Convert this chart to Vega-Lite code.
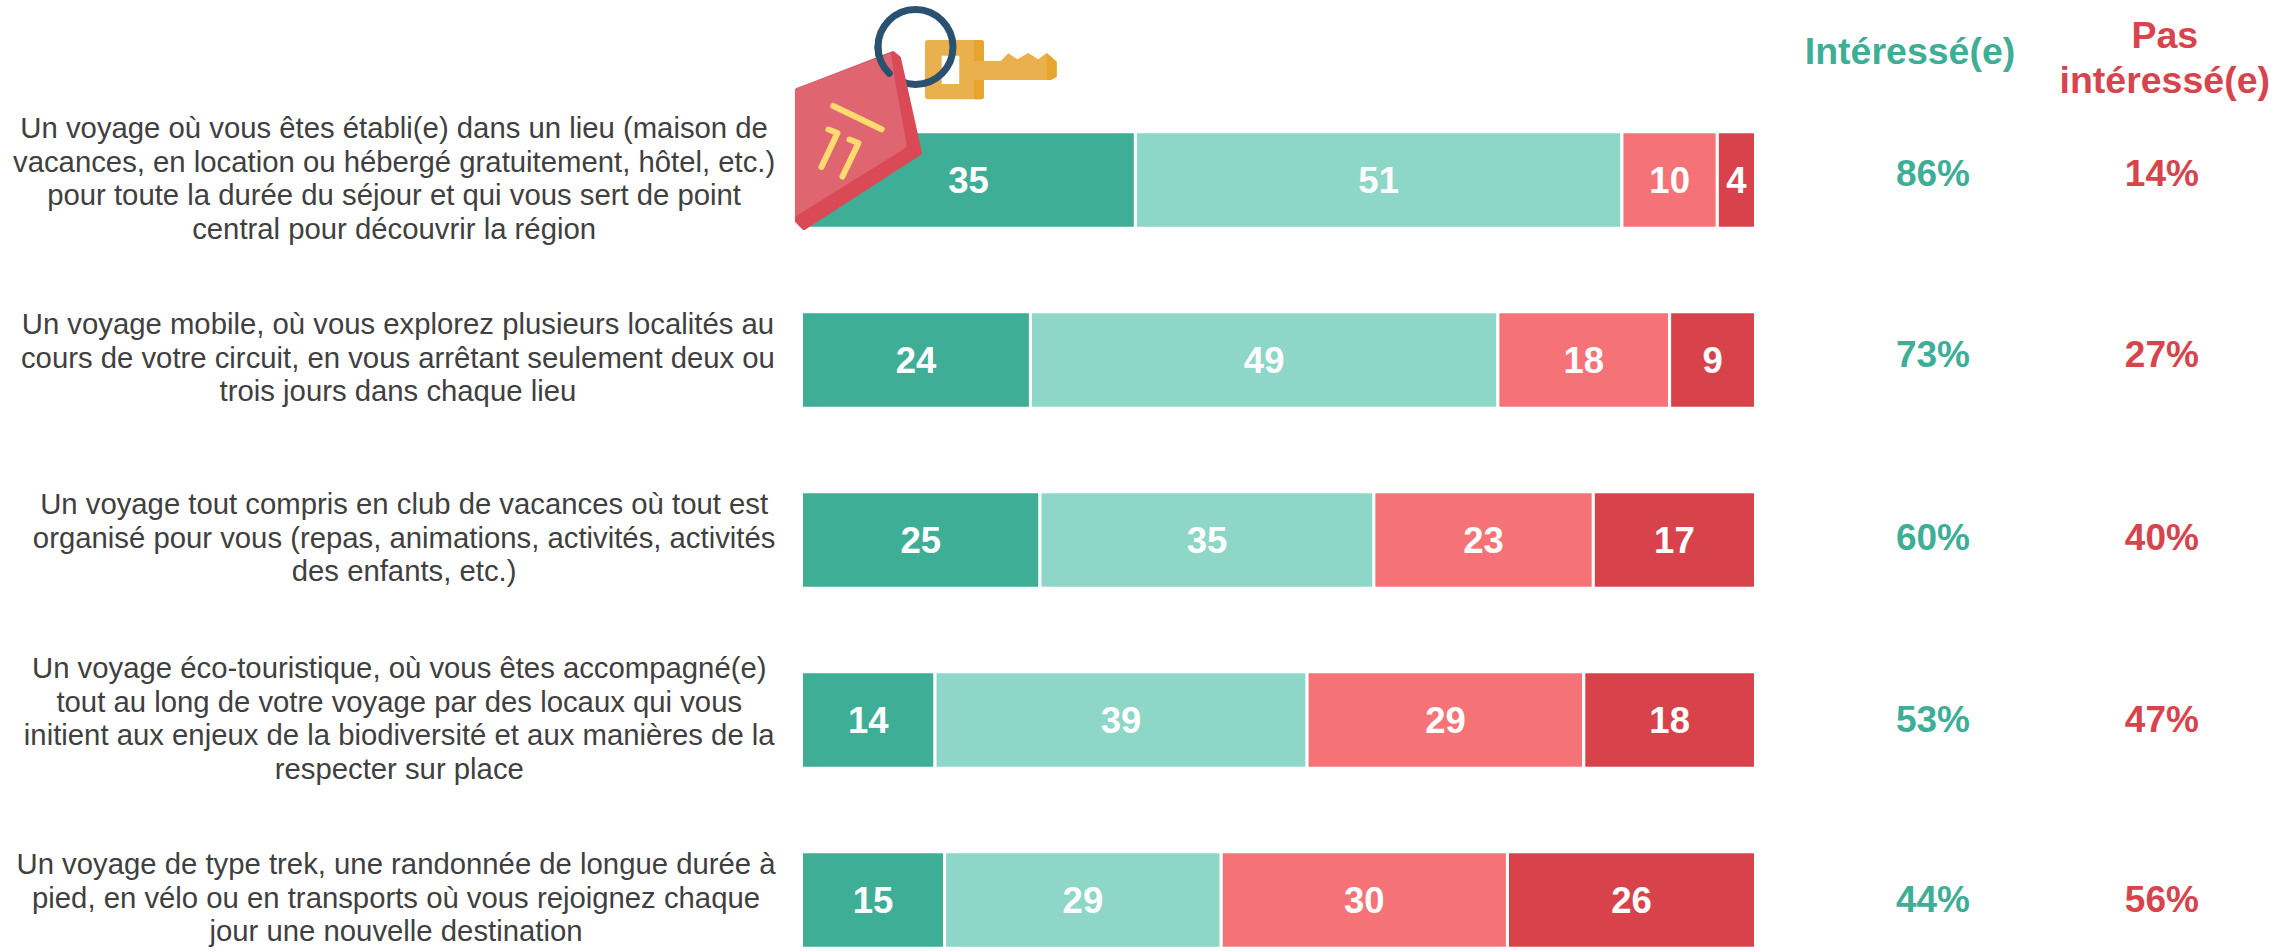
{"$schema":"https://vega.github.io/schema/vega-lite/v6.json","width":2276,"height":951,"padding":0,"autosize":{"type":"none"},"background":"white","config":{"view":{"stroke":null},"text":{"font":"Liberation Sans"}},
"datasets":{
"seg":[
{"row":1,"seg":1,"v":35},{"row":1,"seg":2,"v":51},{"row":1,"seg":3,"v":10},{"row":1,"seg":4,"v":4},
{"row":2,"seg":1,"v":24},{"row":2,"seg":2,"v":49},{"row":2,"seg":3,"v":18},{"row":2,"seg":4,"v":9},
{"row":3,"seg":1,"v":25},{"row":3,"seg":2,"v":35},{"row":3,"seg":3,"v":23},{"row":3,"seg":4,"v":17},
{"row":4,"seg":1,"v":14},{"row":4,"seg":2,"v":39},{"row":4,"seg":3,"v":29},{"row":4,"seg":4,"v":18},
{"row":5,"seg":1,"v":15},{"row":5,"seg":2,"v":29},{"row":5,"seg":3,"v":30},{"row":5,"seg":4,"v":26}],
"rows":[
{"row":1,"label":"Un voyage où vous êtes établi(e) dans un lieu (maison de\nvacances, en location ou hébergé gratuitement, hôtel, etc.)\npour toute la durée du séjour et qui vous sert de point\ncentral pour découvrir la région","yes":0.86,"no":0.14},
{"row":2,"label":"Un voyage mobile, où vous explorez plusieurs localités au\ncours de votre circuit, en vous arrêtant seulement deux ou\ntrois jours dans chaque lieu","yes":0.73,"no":0.27},
{"row":3,"label":"Un voyage tout compris en club de vacances où tout est\norganisé pour vous (repas, animations, activités, activités\ndes enfants, etc.)","yes":0.60,"no":0.40},
{"row":4,"label":"Un voyage éco-touristique, où vous êtes accompagné(e)\ntout au long de votre voyage par des locaux qui vous\ninitient aux enjeux de la biodiversité et aux manières de la\nrespecter sur place","yes":0.53,"no":0.47},
{"row":5,"label":"Un voyage de type trek, une randonnée de longue durée à\npied, en vélo ou en transports où vous rejoignez chaque\njour une nouvelle destination","yes":0.44,"no":0.56}],
"icon":[{"item":"key"}]},
"encoding":{
"x":{"type":"quantitative","scale":{"domain":[-84.01,154.56],"nice":false,"zero":false},"axis":null},
"y":{"type":"ordinal","scale":{"type":"band","domain":[1,2,3,4,5],"range":[90,990],"paddingInner":0.465,"paddingOuter":0.2325},"axis":null}},
"layer":[
{"data":{"name":"seg"},"transform":[{"stack":"v","groupby":["row"],"sort":[{"field":"seg","order":"ascending"}],"as":["v0","v1"]},{"calculate":"(datum.v0+datum.v1)/2","as":"mid"}],
"layer":[
{"mark":{"type":"bar","stroke":"white","strokeWidth":3},"encoding":{"x":{"field":"v0","type":"quantitative"},"x2":{"field":"v1"},"y":{"field":"row","type":"ordinal"},"color":{"field":"seg","type":"ordinal","legend":null,"scale":{"domain":[1,2,3,4],"range":["#3FAE96","#8ED6C8","#F57377","#D8434B"]}}}},
{"mark":{"type":"text","fontSize":36.5,"fontWeight":"bold","color":"white","dy":1.5},"encoding":{"x":{"field":"mid","type":"quantitative"},"y":{"field":"row","type":"ordinal"},"text":{"field":"v","type":"quantitative"}}}
]},
{"data":{"name":"rows"},"transform":[{"filter":"datum.row==1"}],"mark":{"type":"text","fontSize":29.3,"lineHeight":33.5,"lineBreak":"\n","align":"center","color":"#404040","dy":-51},"encoding":{"x":{"datum":-42.7},"y":{"field":"row","type":"ordinal"},"text":{"field":"label"}}},
{"data":{"name":"rows"},"transform":[{"filter":"datum.row==2"}],"mark":{"type":"text","fontSize":29.3,"lineHeight":33.5,"lineBreak":"\n","align":"center","color":"#404040","dy":-35},"encoding":{"x":{"datum":-42.3},"y":{"field":"row","type":"ordinal"},"text":{"field":"label"}}},
{"data":{"name":"rows"},"transform":[{"filter":"datum.row==3"}],"mark":{"type":"text","fontSize":29.3,"lineHeight":33.5,"lineBreak":"\n","align":"center","color":"#404040","dy":-35},"encoding":{"x":{"datum":-41.65},"y":{"field":"row","type":"ordinal"},"text":{"field":"label"}}},
{"data":{"name":"rows"},"transform":[{"filter":"datum.row==4"}],"mark":{"type":"text","fontSize":29.3,"lineHeight":33.5,"lineBreak":"\n","align":"center","color":"#404040","dy":-51},"encoding":{"x":{"datum":-42.16},"y":{"field":"row","type":"ordinal"},"text":{"field":"label"}}},
{"data":{"name":"rows"},"transform":[{"filter":"datum.row==5"}],"mark":{"type":"text","fontSize":29.3,"lineHeight":33.5,"lineBreak":"\n","align":"center","color":"#404040","dy":-35},"encoding":{"x":{"datum":-42.5},"y":{"field":"row","type":"ordinal"},"text":{"field":"label"}}},
{"data":{"name":"rows"},"transform":[{"filter":"datum.row==1"}],"mark":{"type":"text","fontSize":37,"fontWeight":"bold","color":"#3FAE96","dy":-5},"encoding":{"x":{"datum":118.6},"y":{"field":"row","type":"ordinal"},"text":{"field":"yes","type":"quantitative","format":".0%"}}},
{"data":{"name":"rows"},"transform":[{"filter":"datum.row==2"}],"mark":{"type":"text","fontSize":37,"fontWeight":"bold","color":"#3FAE96","dy":-4},"encoding":{"x":{"datum":118.6},"y":{"field":"row","type":"ordinal"},"text":{"field":"yes","type":"quantitative","format":".0%"}}},
{"data":{"name":"rows"},"transform":[{"filter":"datum.row==3"}],"mark":{"type":"text","fontSize":37,"fontWeight":"bold","color":"#3FAE96","dy":-1.5},"encoding":{"x":{"datum":118.6},"y":{"field":"row","type":"ordinal"},"text":{"field":"yes","type":"quantitative","format":".0%"}}},
{"data":{"name":"rows"},"transform":[{"filter":"datum.row>=4"}],"mark":{"type":"text","fontSize":37,"fontWeight":"bold","color":"#3FAE96","dy":1},"encoding":{"x":{"datum":118.6},"y":{"field":"row","type":"ordinal"},"text":{"field":"yes","type":"quantitative","format":".0%"}}},
{"data":{"name":"rows"},"transform":[{"filter":"datum.row==1"}],"mark":{"type":"text","fontSize":37,"fontWeight":"bold","color":"#D8444C","dy":-5},"encoding":{"x":{"datum":142.6},"y":{"field":"row","type":"ordinal"},"text":{"field":"no","type":"quantitative","format":".0%"}}},
{"data":{"name":"rows"},"transform":[{"filter":"datum.row==2"}],"mark":{"type":"text","fontSize":37,"fontWeight":"bold","color":"#D8444C","dy":-4},"encoding":{"x":{"datum":142.6},"y":{"field":"row","type":"ordinal"},"text":{"field":"no","type":"quantitative","format":".0%"}}},
{"data":{"name":"rows"},"transform":[{"filter":"datum.row==3"}],"mark":{"type":"text","fontSize":37,"fontWeight":"bold","color":"#D8444C","dy":-1.5},"encoding":{"x":{"datum":142.6},"y":{"field":"row","type":"ordinal"},"text":{"field":"no","type":"quantitative","format":".0%"}}},
{"data":{"name":"rows"},"transform":[{"filter":"datum.row>=4"}],"mark":{"type":"text","fontSize":37,"fontWeight":"bold","color":"#D8444C","dy":1},"encoding":{"x":{"datum":142.6},"y":{"field":"row","type":"ordinal"},"text":{"field":"no","type":"quantitative","format":".0%"}}},
{"data":{"name":"icon"},"mark":{"type":"text","fontSize":37.5,"fontWeight":"bold","color":"#3FAE96","dy":-127},"encoding":{"x":{"datum":116.2},"y":{"datum":1,"type":"ordinal"},"text":{"value":"Intéressé(e)"}}},
{"data":{"name":"icon"},"mark":{"type":"text","fontSize":37.5,"fontWeight":"bold","color":"#D8444C","dy":-143,"lineBreak":"\n","lineHeight":44.5},"encoding":{"x":{"datum":142.9},"y":{"datum":1,"type":"ordinal"},"text":{"value":"Pas\nintéressé(e)"}}},
{"data":{"name":"icon"},"encoding":{"x":{"datum":0.157},"y":{"datum":1,"type":"ordinal"}},
"layer":[
{"mark":{"type":"point","size":4,"filled":true,"opacity":1,"color":"#EBB04E","stroke":null,"shape":"M125 -140 L178 -140 Q181 -140 181 -137 L181 -119 L198 -119 L205.3 -126.7 L214.3 -120.7 L225.3 -127 L235.3 -120.7 L243.7 -127 L253.7 -118.3 L253.7 -103.3 L248 -100 L181 -100 L181 -83.7 Q181 -80.7 178 -80.7 L125 -80.7 Q122 -80.7 122 -83.7 L122 -137 Q122 -140 125 -140 Z M138.7 -124.3 L138.7 -96 L156.3 -96 L156.3 -124.3 Z"}},
{"mark":{"type":"point","size":4,"filled":true,"opacity":1,"color":"#E8A52D","stroke":null,"shape":"M171 -140 L178 -140 Q181 -140 181 -137 L181 -119 L171 -119 Z M171 -100 L181 -100 L181 -83.7 Q181 -80.7 178 -80.7 L171 -80.7 Z M243.7 -127 L253.7 -118.3 L253.7 -103.3 L248 -100 L243.7 -100 Z"}},
{"mark":{"type":"point","size":4,"filled":false,"opacity":1,"stroke":"#2A5270","strokeWidth":7,"shape":"M75 -133 A37.5 37.5 0 1 1 150 -133 A37.5 37.5 0 1 1 75 -133 Z"}},
{"mark":{"type":"point","size":4,"filled":true,"opacity":1,"color":"#D94A56","stroke":"#D94A56","strokeWidth":4,"strokeJoin":"round","shape":"M-6 -90 L90 -127 L96 -122 L117 -27 L1 48 L-6 41 Z"}},
{"mark":{"type":"point","size":4,"filled":true,"opacity":1,"color":"#DF6571","stroke":null,"shape":"M-8 -90 Q-8 -91 -6 -92 L88 -127 L92 -100 L103.7 -35 Q103.7 -33 101 -31 L-8 36.7 Z"}},
{"mark":{"type":"point","size":4,"filled":false,"opacity":1,"stroke":"#FFDA6E","strokeWidth":6,"strokeCap":"round","strokeJoin":"round","shape":"M30.3 -74 L78.7 -50.7 M25.5 -50.5 L34.5 -47 L18.5 -13 M46.5 -40.5 L55.5 -37 L39.5 -3.5"}},
{"mark":{"type":"point","size":4,"filled":false,"opacity":1,"stroke":"#2A5270","strokeWidth":7,"strokeCap":"round","shape":"M86.3 -106.7 A37.5 37.5 0 0 1 75 -133"}}
]}
]}
